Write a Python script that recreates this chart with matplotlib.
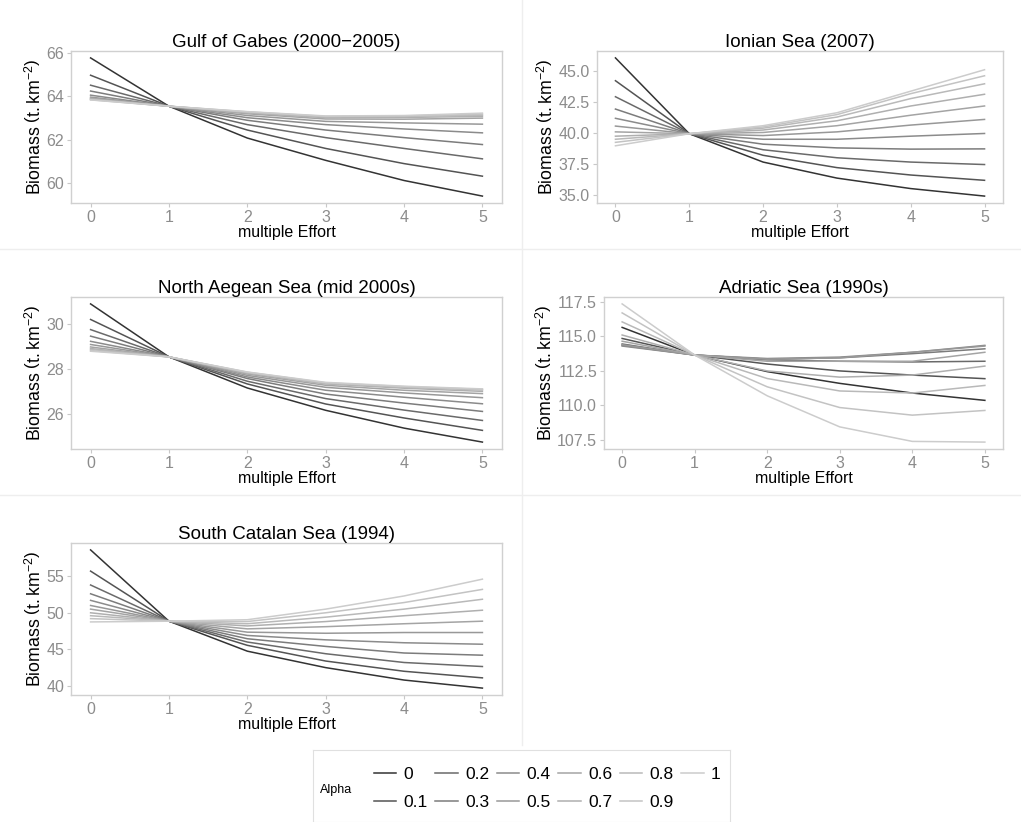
import numpy as np
import matplotlib
matplotlib.use("Agg")
import matplotlib.pyplot as plt
from matplotlib.lines import Line2D

plt.rcParams['font.family'] = ['Liberation Sans', 'DejaVu Sans']
plt.rcParams['mathtext.fontset'] = 'custom'
plt.rcParams['mathtext.rm'] = 'Liberation Sans'
plt.rcParams['mathtext.it'] = 'Liberation Sans:italic'

effort = [0, 1, 2, 3, 4, 5]
alphas = ['0', '0.1', '0.2', '0.3', '0.4', '0.5', '0.6', '0.7', '0.8', '0.9', '1']

# biomass per alpha (rows) and effort multiple (columns)
gabes = [
    [65.78, 63.55, 62.08, 61.05, 60.12, 59.40],
    [64.98, 63.55, 62.45, 61.60, 60.90, 60.32],
    [64.52, 63.55, 62.70, 62.10, 61.60, 61.12],
    [64.25, 63.55, 62.90, 62.45, 62.10, 61.78],
    [64.06, 63.55, 63.02, 62.70, 62.50, 62.32],
    [63.97, 63.55, 63.12, 62.85, 62.78, 62.72],
    [63.92, 63.55, 63.20, 62.96, 62.95, 63.00],
    [63.89, 63.55, 63.24, 63.02, 63.03, 63.08],
    [63.87, 63.55, 63.27, 63.06, 63.08, 63.13],
    [63.85, 63.55, 63.29, 63.08, 63.10, 63.18],
    [63.84, 63.55, 63.30, 63.10, 63.12, 63.23],
]
ionian = [
    [46.10, 39.95, 37.65, 36.35, 35.50, 34.89],
    [44.25, 39.95, 38.20, 37.20, 36.60, 36.17],
    [42.95, 39.95, 38.65, 38.00, 37.65, 37.45],
    [41.95, 39.95, 39.10, 38.80, 38.70, 38.72],
    [41.20, 39.95, 39.50, 39.50, 39.75, 39.97],
    [40.57, 39.95, 39.80, 40.10, 40.65, 41.11],
    [40.10, 39.95, 40.05, 40.60, 41.45, 42.20],
    [39.75, 39.95, 40.25, 41.00, 42.20, 43.15],
    [39.50, 39.95, 40.40, 41.30, 42.80, 44.00],
    [39.25, 39.95, 40.50, 41.50, 43.20, 44.65],
    [38.97, 39.95, 40.60, 41.65, 43.40, 45.14],
]
aegean = [
    [30.87, 28.52, 27.14, 26.15, 25.36, 24.74],
    [30.18, 28.52, 27.32, 26.43, 25.81, 25.26],
    [29.73, 28.52, 27.44, 26.67, 26.16, 25.70],
    [29.44, 28.52, 27.56, 26.87, 26.47, 26.10],
    [29.21, 28.52, 27.63, 27.04, 26.73, 26.44],
    [29.07, 28.52, 27.70, 27.17, 26.92, 26.71],
    [28.96, 28.52, 27.76, 27.26, 27.04, 26.89],
    [28.89, 28.52, 27.80, 27.32, 27.13, 26.99],
    [28.85, 28.52, 27.82, 27.35, 27.17, 27.05],
    [28.80, 28.52, 27.84, 27.37, 27.20, 27.08],
    [28.77, 28.52, 27.85, 27.39, 27.22, 27.10],
]
adriatic = [
    [115.65, 113.65, 112.45, 111.60, 110.90, 110.37],
    [114.85, 113.65, 113.00, 112.50, 112.20, 111.94],
    [114.45, 113.65, 113.30, 113.20, 113.15, 113.20],
    [114.35, 113.65, 113.35, 113.45, 113.75, 114.10],
    [114.30, 113.65, 113.40, 113.50, 113.85, 114.35],
    [114.40, 113.65, 113.35, 113.45, 113.85, 114.30],
    [114.65, 113.65, 113.20, 113.20, 113.20, 113.85],
    [115.10, 113.65, 112.50, 112.05, 112.20, 112.85],
    [116.05, 113.65, 111.95, 111.05, 110.90, 111.45],
    [116.70, 113.65, 111.35, 109.85, 109.30, 109.64],
    [117.35, 113.65, 110.70, 108.45, 107.40, 107.35],
]
catalan = [
    [58.60, 48.85, 44.75, 42.50, 40.80, 39.70],
    [55.70, 48.85, 45.55, 43.40, 42.00, 41.10],
    [53.80, 48.85, 46.00, 44.40, 43.20, 42.65],
    [52.60, 48.85, 46.45, 45.40, 44.50, 44.20],
    [51.70, 48.85, 46.90, 46.30, 45.90, 45.70],
    [51.00, 48.85, 47.35, 47.20, 47.30, 47.30],
    [50.50, 48.85, 47.80, 48.10, 48.50, 48.85],
    [50.00, 48.85, 48.20, 48.80, 49.60, 50.35],
    [49.60, 48.85, 48.50, 49.40, 50.50, 51.85],
    [49.20, 48.85, 48.80, 50.00, 51.40, 53.20],
    [48.75, 48.85, 49.05, 50.50, 52.30, 54.60],
]

titles = ['Gulf of Gabes (2000\u22122005)', 'Ionian Sea (2007)',
          'North Aegean Sea (mid 2000s)', 'Adriatic Sea (1990s)',
          'South Catalan Sea (1994)']
series = [gabes, ionian, aegean, adriatic, catalan]
yticks = [[60, 62, 64, 66],
          [35.0, 37.5, 40.0, 42.5, 45.0],
          [26, 28, 30],
          [107.5, 110.0, 112.5, 115.0, 117.5],
          [40, 45, 50, 55]]
yfmt = ['{:.0f}', '{:.1f}', '{:.0f}', '{:.1f}', '{:.0f}']

# ggplot-like grey scale (grey.colors, gamma 2.2)
g = np.linspace(0.2 ** 2.2, 0.8 ** 2.2, len(alphas)) ** (1 / 2.2)
colors = [(v, v, v) for v in g]

W, H = 1021, 822
fig = plt.figure(figsize=(W / 100, H / 100), dpi=100)

# panel boxes in pixels: left, top, right, bottom
boxes = [(71, 51, 502, 203), (597, 51, 1003, 203),
         (71, 297, 502, 449), (604, 297, 1003, 449),
         (71, 543, 502, 695)]

# faint cell separators
sep = '#eeeeee'
fig.add_artist(Line2D([522 / W, 522 / W], [1 - 0 / H, 1 - 745 / H], color=sep, lw=1))
fig.add_artist(Line2D([0, 1], [1 - 249 / H, 1 - 249 / H], color=sep, lw=1))
fig.add_artist(Line2D([0, 1], [1 - 495 / H, 1 - 495 / H], color=sep, lw=1))

tickc = '#8c8c8c'
for i, (l, t, r, b) in enumerate(boxes):
    ax = fig.add_axes([l / W, 1 - b / H, (r - l) / W, (b - t) / H])
    for j, row in enumerate(series[i]):
        ax.plot(effort, row, color=colors[j], lw=1.1)
    ax.margins(x=0.05, y=0.05)
    ax.set_xticks(effort)
    ax.set_yticks(yticks[i])
    ax.set_yticklabels([yfmt[i].format(v) for v in yticks[i]])
    ax.tick_params(colors='#c8c8c8', labelcolor=tickc, labelsize=11.5,
                   length=3, width=0.8, pad=2)
    for s in ax.spines.values():
        s.set_color('#d0d0d0')
        s.set_linewidth(1)
    ax.set_title(titles[i], fontsize=13.5, pad=3)
    ax.set_xlabel('multiple Effort', fontsize=11.5, labelpad=0)
    ax.set_ylabel(r'Biomass $\left(\mathrm{t.km^{-2}}\right)$', fontsize=12.8,
                  labelpad=1)

# legend box
lax = fig.add_axes([313 / W, 0, (730 - 313) / W, (822 - 750) / H])
lax.set_xticks([])
lax.set_yticks([])
for s in lax.spines.values():
    s.set_color('#e0e0e0')
lax.text(7 / 417, 0.45, 'Alpha', fontsize=9, va='center', ha='left',
         transform=lax.transAxes)
handles = [Line2D([], [], color=colors[j], lw=1.1) for j in range(len(alphas))]
lax.legend(handles, alphas, ncol=6, frameon=False, fontsize=12.5,
           loc='center left', bbox_to_anchor=(0.125, 0.47),
           handlelength=1.3, handletextpad=0.4, columnspacing=0.45,
           labelspacing=0.75, borderpad=0)

fig.savefig('out.png', dpi=100, facecolor='white')
